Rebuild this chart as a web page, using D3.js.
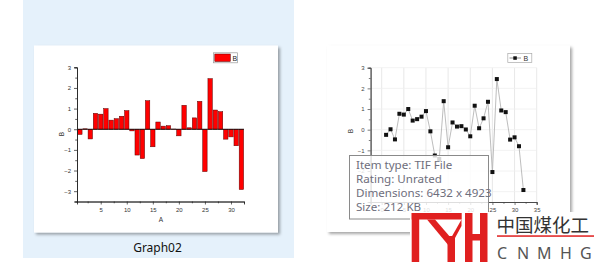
<!DOCTYPE html>
<html><head><meta charset="utf-8">
<script src="https://cdn.jsdelivr.net/npm/d3@7"></script>
<style>html,body{margin:0;padding:0;background:#fff;overflow:hidden}</style>
</head><body>
<svg id="c" width="594" height="269"></svg>
<script>
// ---- data ----
const A = [1,2,3,4,5,6,7,8,9,10,11,12,13,14,15,16,17,18,19,20,21,22,23,24,25,26,27,28,29,30,31,32];
const B = [-0.25,0.02,-0.47,0.77,0.73,1.0,0.44,0.51,0.63,0.9,-0.08,-1.25,-1.42,1.38,-0.85,0.35,0.15,0.17,0.01,-0.32,1.16,0.07,0.55,1.35,-2.05,2.45,0.93,0.85,-0.48,-0.37,-0.8,-2.92];
const yTicks = [-3,-2,-1,0,1,2,3];
const xTicksLeft = [5,10,15,20,25,30];
const xTicksRight = [0,5,10,15,20,25,30,35];
const seriesName = "B", xName = "A";
const caption = "Graph02";
const tipLines = ["Item type: TIF File","Rating: Unrated","Dimensions: 6432 x 4923","Size: 212 KB"];
const brandCN = "中国煤化工";
const brandEN = ["C","N","M","H","G"];

const svg = d3.select("#c");
const defs = svg.append("defs");
const f = defs.append("filter").attr("id","sh").attr("x","-10%").attr("y","-10%").attr("width","130%").attr("height","130%");
f.append("feDropShadow").attr("dx",2).attr("dy",2).attr("stdDeviation",1.5).attr("flood-color","#000").attr("flood-opacity",0.35);

// selection panel
svg.append("rect").attr("x",23).attr("y",0).attr("width",271).attr("height",258).attr("fill","#e5f1fb");
// cards
svg.append("rect").attr("x",34).attr("y",45.5).attr("width",244).attr("height",187).attr("fill","#fff").attr("filter","url(#sh)");
svg.append("rect").attr("x",327).attr("y",45.5).attr("width",243).attr("height",186.5).attr("fill","#fff").attr("filter","url(#sh)");

svg.append("text").attr("x",157.5).attr("y",252).attr("text-anchor","middle")
  .attr("font-family","'Noto Sans','Open Sans',sans-serif").attr("font-size",12).attr("fill","#111").text(caption);

const tickFont = "Liberation Sans, Arial, sans-serif";

// ---------- left bar chart ----------
{
  const x = d3.scaleLinear().domain([0.45,32.5]).range([77,244]);
  const y = d3.scaleLinear().domain([-3.5,3.0]).range([201.5,67.3]);
  const g = svg.append("g");
  const bw = 4.4;
  g.selectAll("rect.bar").data(A).join("rect").attr("class","bar")
    .attr("x",(d)=>x(d)-bw/2).attr("width",bw)
    .attr("y",(d,i)=>y(Math.max(0,B[i]))).attr("height",(d,i)=>Math.abs(y(B[i])-y(0)))
    .attr("fill","#ff0000").attr("stroke","#5a0000").attr("stroke-width",0.5);
  g.append("line").attr("x1",x.range()[0]).attr("x2",x.range()[1]).attr("y1",y(0)).attr("y2",y(0)).attr("stroke","#000").attr("stroke-width",0.8);

  const ya = d3.axisLeft(y).tickValues(yTicks).tickSize(3).tickFormat(d3.format("d"));
  const yg = g.append("g").attr("transform","translate(77,0)").call(ya);
  const ym = d3.axisLeft(y).tickValues(d3.range(-3.5,3.01,0.5).filter(v=>!Number.isInteger(v))).tickSize(1.8).tickFormat("");
  g.append("g").attr("transform","translate(77,0)").call(ym);
  const xa = d3.axisBottom(x).tickValues(xTicksLeft).tickSize(3);
  g.append("g").attr("transform","translate(0,201.5)").call(xa);
  const xm = d3.axisBottom(x).tickValues([2.5,7.5,12.5,17.5,22.5,27.5,32.5]).tickSize(1.8).tickFormat("");
  g.append("g").attr("transform","translate(0,201.5)").call(xm);
  g.selectAll(".domain").attr("stroke","#222").attr("stroke-width",0.8);
  g.selectAll(".tick line").attr("stroke","#222").attr("stroke-width",0.7);
  g.selectAll(".tick text").attr("font-size",6).attr("font-family",tickFont).attr("fill","#333");
  g.append("text").attr("transform","translate(64,134) rotate(-90)").attr("text-anchor","middle").attr("font-size",6.5).attr("font-family",tickFont).attr("fill","#333").text(seriesName);
  g.append("text").attr("x",161).attr("y",221.5).attr("text-anchor","middle").attr("font-size",6.5).attr("font-family",tickFont).attr("fill","#333").text(xName);
  // legend
  g.append("rect").attr("x",213.5).attr("y",52.8).attr("width",24).attr("height",10).attr("fill","#fff").attr("stroke","#999").attr("stroke-width",0.7);
  g.append("rect").attr("x",214.8).attr("y",54).attr("width",15.5).attr("height",7.5).attr("fill","#ff0000").attr("stroke","#5a0000").attr("stroke-width",0.5);
  g.append("text").attr("x",232.5).attr("y",60.5).attr("font-size",7).attr("font-family",tickFont).attr("fill","#222").text(seriesName);
}

// ---------- right line chart ----------
{
  const x = d3.scaleLinear().domain([-2.5,35]).range([370.6,536.7]);
  const y = d3.scaleLinear().domain([-3.5,3.0]).range([202,67.7]);
  const g = svg.append("g");
  g.selectAll("line.vg").data(xTicksRight).join("line").attr("class","vg")
    .attr("x1",d=>x(d)).attr("x2",d=>x(d)).attr("y1",y(3)).attr("y2",y(-3.5)).attr("stroke","#e2e2e2").attr("stroke-width",0.8);
  g.selectAll("line.hg").data(yTicks).join("line").attr("class","hg")
    .attr("x1",x(-2.5)).attr("x2",x(35)).attr("y1",d=>y(d)).attr("y2",d=>y(d)).attr("stroke","#efefef").attr("stroke-width",0.8);
  const line = d3.line().x((d,i)=>x(A[i])).y(d=>y(d));
  g.append("path").datum(B).attr("d",line).attr("fill","none").attr("stroke","#b5b5b5").attr("stroke-width",0.9);
  g.selectAll("rect.pt").data(B).join("rect").attr("class","pt")
    .attr("x",(d,i)=>x(A[i])-2).attr("y",d=>y(d)-2).attr("width",4).attr("height",4).attr("fill","#111");
  const ya = d3.axisLeft(y).tickValues(yTicks).tickSize(3).tickFormat(d3.format("d"));
  g.append("g").attr("transform","translate(370.6,0)").call(ya);
  const ym = d3.axisLeft(y).tickValues(d3.range(-3.5,3.01,0.5).filter(v=>!Number.isInteger(v))).tickSize(1.8).tickFormat("");
  g.append("g").attr("transform","translate(370.6,0)").call(ym);
  const xa = d3.axisBottom(x).tickValues(xTicksRight).tickSize(3);
  g.append("g").attr("transform","translate(0,202)").call(xa);
  const xm = d3.axisBottom(x).tickValues([-2.5,2.5,7.5,12.5,17.5,22.5,27.5,32.5]).tickSize(1.8).tickFormat("");
  g.append("g").attr("transform","translate(0,202)").call(xm);
  g.selectAll(".domain").attr("stroke","#444").attr("stroke-width",0.8);
  g.selectAll(".tick line").attr("stroke","#444").attr("stroke-width",0.7);
  g.selectAll(".tick text").attr("font-size",6).attr("font-family",tickFont).attr("fill","#444");
  g.append("text").attr("transform","translate(353,131) rotate(-90)").attr("text-anchor","middle").attr("font-size",6.5).attr("font-family",tickFont).attr("fill","#444").text(seriesName);
  // legend
  g.append("rect").attr("x",507.8).attr("y",53.4).attr("width",24).attr("height",9).attr("fill","#fff").attr("stroke","#aaa").attr("stroke-width",0.7);
  g.append("line").attr("x1",509.5).attr("x2",521).attr("y1",58).attr("y2",58).attr("stroke","#777").attr("stroke-width",0.8);
  g.append("rect").attr("x",513.3).attr("y",56.3).attr("width",3.5).attr("height",3.5).attr("fill","#111");
  g.append("text").attr("x",523.5).attr("y",60.8).attr("font-size",7).attr("font-family",tickFont).attr("fill","#333").text(seriesName);
}

// ---------- tooltip ----------
{
  const g = svg.append("g");
  g.append("rect").attr("x",349.5).attr("y",155.5).attr("width",139).attr("height",63.5)
    .attr("fill","#fff").attr("fill-opacity",0.82).attr("stroke","#8a8a8a").attr("stroke-width",1);
  g.selectAll("text").data(tipLines).join("text")
    .attr("x",356).attr("y",(d,i)=>168.5+i*14.2)
    .attr("font-family","'Noto Sans','Open Sans',sans-serif").attr("font-size",11.6).attr("fill","#6e6e7c").text(d=>d);
}

// ---------- watermark ----------
{
  const g = svg.append("g");
  g.append("rect").attr("x",410).attr("y",212).attr("width",184).attr("height",57).attr("fill","#fff");
  const red = "#e02020";
  g.append("rect").attr("x",411.7).attr("y",213).attr("width",7.5).attr("height",49).attr("fill",red);
  g.append("rect").attr("x",411.7).attr("y",213).attr("width",50).attr("height",6.5).attr("fill",red);
  g.append("path").attr("d","M427,219.5 L435,219.5 L451,238 L449,246 Z").attr("fill",red);
  g.append("path").attr("d","M461.5,219.5 L461.5,226 L455,238 L451,238 Z").attr("fill",red);
  g.append("rect").attr("x",447.5).attr("y",236).attr("width",7.5).attr("height",26).attr("fill",red);
  g.append("rect").attr("x",465).attr("y",213).attr("width",7.5).attr("height",49).attr("fill",red);
  g.append("rect").attr("x",480).attr("y",213).attr("width",7.5).attr("height",49).attr("fill",red);
  g.append("rect").attr("x",465).attr("y",234).attr("width",22).attr("height",6.5).attr("fill",red);
  g.append("text").attr("x",496.5).attr("y",231.5).attr("font-family","'Noto Sans CJK SC',sans-serif").attr("font-size",18.5).attr("fill","#333").text(brandCN);
  g.append("rect").attr("x",497).attr("y",235.3).attr("width",97).attr("height",1.5).attr("fill",red);
  const ex = [497,517,537,560,580];
  g.selectAll("text.en").data(brandEN).join("text").attr("class","en")
    .attr("x",(d,i)=>ex[i]).attr("y",258.5).attr("font-family","'Noto Sans',sans-serif").attr("font-size",16).attr("fill","#555").text(d=>d);
}
</script>
</body></html>
